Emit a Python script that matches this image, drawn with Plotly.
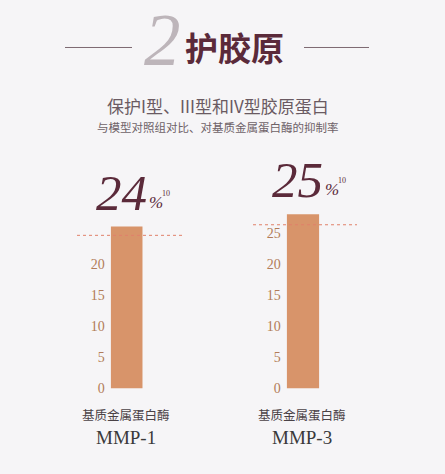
import plotly.graph_objects as go

# ---- data ----
enzyme_names = ["基质金属蛋白酶", "基质金属蛋白酶"]
enzyme_codes = ["MMP-1", "MMP-3"]
inhibition_pct = ["24", "25"]
footnote = "10"
bar_values = [26, 28]
reference_values = [24.6, 26.3]
tick_vals_left = [0, 5, 10, 15, 20]
tick_vals_right = [0, 5, 10, 15, 20, 25]
title_num = "2"
title_text = "护胶原"
subtitle = "保护I型、III型和IV型胶原蛋白"
subtitle2 = "与模型对照组对比、对基质金属蛋白酶的抑制率"

W, H = 445, 474
BAR = "#d8946a"
TICK = "#b27c58"
MAROON = "#5b2a3a"
SERIF = "Liberation Serif, DejaVu Serif, serif"
CJK = "Noto Sans CJK SC, sans-serif"


def Y(py):
    """pixel-from-top -> paper fraction"""
    return 1 - (py * 1.013 + 0.7) / H


fig = go.Figure()
fig.add_trace(go.Bar(x=[enzyme_codes[0]], y=[bar_values[0]], marker=dict(color=BAR, line=dict(width=0)),
                     width=1, xaxis="x", yaxis="y", hoverinfo="skip"))
fig.add_trace(go.Bar(x=[enzyme_codes[1]], y=[bar_values[1]], marker=dict(color=BAR, line=dict(width=0)),
                     width=1, xaxis="x2", yaxis="y2", hoverinfo="skip"))

yrange = [0, 30.3]


def yax(ticks, anchor):
    return dict(domain=[Y(389.3), Y(200)], range=yrange, tickvals=ticks, ticktext=[str(t) for t in ticks],
                showgrid=False, zeroline=False, showline=False, ticks="", anchor=anchor,
                ticklabelstandoff=5, tickfont=dict(family=SERIF, size=14, color=TICK))


def xax(dom, anchor):
    return dict(domain=dom, range=[-0.5, 0.5], showticklabels=False, showgrid=False,
                zeroline=False, showline=False, ticks="", anchor=anchor, type="category")


fig.update_layout(
    width=W, height=H, margin=dict(l=0, r=0, t=0, b=0),
    paper_bgcolor="#f6f5f7", plot_bgcolor="rgba(0,0,0,0)", showlegend=False,
    xaxis=xax([110.7 / W, 142.7 / W], "y"),
    xaxis2=xax([286.7 / W, 319.3 / W], "y2"),
    yaxis=yax(tick_vals_left, "x"),
    yaxis2=yax(tick_vals_right, "x2"),
)

shapes = []
for i, (yr, x0, x1) in enumerate([("y", 77, 182), ("y2", 253, 357)]):
    shapes.append(dict(type="line", xref="paper", yref=yr, x0=x0 / W, x1=x1 / W,
                       y0=reference_values[i], y1=reference_values[i],
                       line=dict(color="#e0806a", width=1, dash="dot"), layer="above"))
for x0, x1 in [(65, 132), (304, 369)]:
    shapes.append(dict(type="line", xref="paper", yref="paper", x0=x0 / W, x1=x1 / W,
                       y0=Y(47), y1=Y(47), line=dict(color="#7e6a72", width=1)))
fig.update_layout(shapes=shapes)


def pa(text, x, y, font, **kw):
    return dict(text=text, xref="paper", yref="paper", x=x / W, y=Y(y),
                xanchor="center", yanchor="middle", showarrow=False, font=font, **kw)


ann = []
ann.append(pa(f"<i>{title_num}</i>", 162, 40, dict(family=SERIF, size=73, color="#bdb5ba")))
ann.append(pa(f"<b>{title_text}</b>", 234, 47, dict(family=CJK, size=33, color=MAROON)))
ann.append(pa(subtitle, 218, 105, dict(family=CJK, size=17, color="#6a5a62")))
ann.append(pa(subtitle2, 218, 127, dict(family=CJK, size=11.5, color="#6e6268")))

for i, (xr, yr) in enumerate([("x", "y"), ("x2", "y2")]):
    ann.append(dict(text=f"<i>{inhibition_pct[i]}</i>", xref=xr, yref=yr, x=enzyme_codes[i], y=bar_values[i],
                    xanchor="right", yanchor="bottom", xshift=22, yshift=4, showarrow=False,
                    font=dict(family=SERIF, size=51, color=MAROON)))
    ann.append(dict(text="<i>%</i>", xref=xr, yref=yr, x=enzyme_codes[i], y=bar_values[i],
                    xanchor="left", yanchor="bottom", xshift=20, yshift=13, showarrow=False,
                    font=dict(family=SERIF, size=17, color=MAROON)))
    ann.append(dict(text=footnote, xref=xr, yref=yr, x=enzyme_codes[i], y=bar_values[i],
                    xanchor="left", yanchor="bottom", xshift=33, yshift=27, showarrow=False,
                    font=dict(family=SERIF, size=8, color=MAROON)))
    ann.append(dict(text=enzyme_names[i], xref=xr, yref="paper", x=enzyme_codes[i], y=Y(416),
                    xanchor="center", yanchor="middle", xshift=-1, showarrow=False,
                    font=dict(family=CJK, size=12.5, color="#4a4246")))
    ann.append(dict(text=enzyme_codes[i], xref=xr, yref="paper", x=enzyme_codes[i], y=Y(439),
                    xanchor="center", yanchor="middle", xshift=-1, showarrow=False,
                    font=dict(family=SERIF, size=19, color="#3a3a3a")))
fig.update_layout(annotations=ann)

fig.write_html("out.html")
